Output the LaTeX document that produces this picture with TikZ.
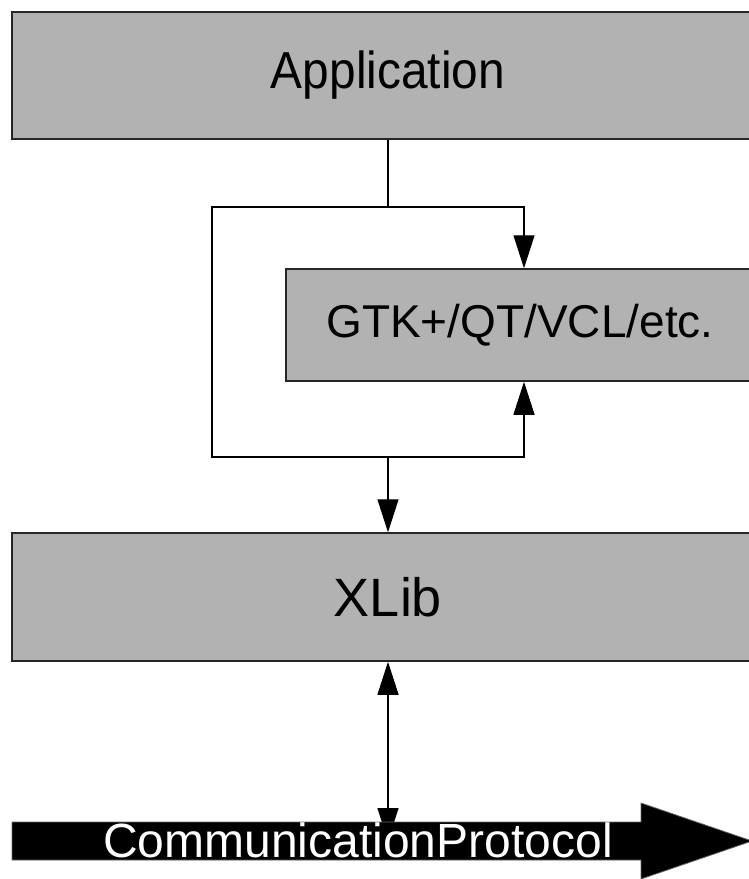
\documentclass[tikz,border=0pt]{standalone}
\usepackage{fontspec}
\setmainfont{Liberation Sans}
\usetikzlibrary{arrows.meta}

\tikzset{
  layer/.style={draw=black!85, line width=1.5pt, fill=black!30,
    font=\fontsize{46}{50}\selectfont, inner sep=0pt},
  wire/.style={line width=1.2pt},
}

\begin{document}
\begin{tikzpicture}[x=1pt, y=-1pt, >={Triangle[length=33pt,width=21pt]}]
    \useasboundingbox (0,0) rectangle (749,879);
    \clip (0,0) rectangle (749,879);

    % the layers
    \node[layer, minimum width=752pt, minimum height=127pt, font=\fontsize{52}{56}\selectfont]
      (app) at (388,75.5) {\scalebox{0.92}[1]{Application}};
    \node[layer, minimum width=468pt, minimum height=112pt] (gtk) at (520,325) {GTK+/QT/VCL/etc.};
    \node[layer, minimum width=752pt, minimum height=128pt, font=\fontsize{54}{58}\selectfont]
      (xlib) at (388,597) {XLib};

    % loop round the toolkit
    \coordinate (tl) at (212,207);
    \coordinate (br) at (524,457);
    \draw[wire, <->] (gtk.north -| br) |- (tl) |- (br) -- (gtk.south -| br);
    \draw[wire] (app.south) -- (app.south |- tl);
    \draw[wire, ->] (app.south |- br) -- (xlib.north);

    % wire protocol
    \coordinate (pc) at (388,841);
    \draw[wire, <->] (xlib.south) -- (pc);
    \fill[draw=black!60, line width=0.8pt] (12,822) -- (641,822) -- (641,803) -- (752,841)
      -- (641,879) -- (641,860) -- (12,860) -- cycle;
    \node[text=white, font=\fontsize{48}{52}\selectfont, inner sep=0pt, anchor=base]
      (proto) at (358,857) {CommunicationProtocol};
\end{tikzpicture}
\end{document}
